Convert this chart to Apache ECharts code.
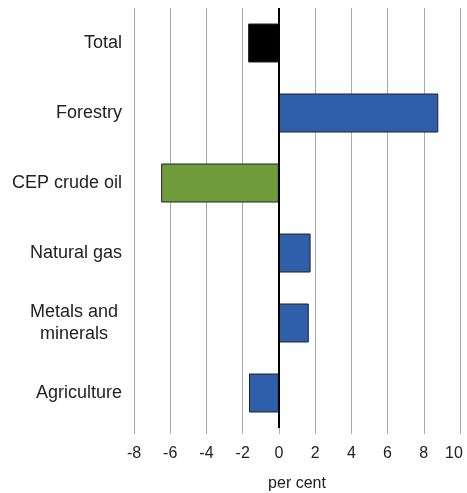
<!DOCTYPE html>
<html><head><meta charset="utf-8">
<script src="https://cdn.jsdelivr.net/npm/echarts@6/dist/echarts.min.js"></script>
<style>html,body{margin:0;padding:0;background:#fff}#c{width:467px;height:493px}</style>
</head><body><div id="c"></div>
<script>
const categories = ["Total", "Forestry", "CEP crude oil", "Natural gas", "Metals and\nminerals", "Agriculture"];
const values = [-1.7, 8.8, -6.5, 1.75, 1.65, -1.65];
const barColors = ["#000000", "#2f5fa8", "#6f9b3a", "#2f5fa8", "#2f5fa8", "#2f5fa8"];
const xTicks = { min: -8, max: 10, interval: 2 };
const xName = "per cent";

const chart = echarts.init(document.getElementById('c'), null, {renderer: 'canvas'});
const font = 'Liberation Sans, Arial, Helvetica, sans-serif';
chart.setOption({
  animation: false,
  grid: { left: 134, right: 7, top: 8, bottom: 65, containLabel: false, outerBoundsMode: 'none' },
  xAxis: {
    type: 'value', min: xTicks.min, max: xTicks.max, interval: xTicks.interval,
    name: xName, nameLocation: 'middle', nameGap: 48,
    nameTextStyle: { fontFamily: font, fontSize: 16, color: '#222' },
    axisLine: { show: true, onZero: false, lineStyle: { color: 'rgba(0,0,0,0)' } },
    axisTick: { show: true, length: 6, lineStyle: { color: '#aaa', width: 1 } },
    axisLabel: {
      fontFamily: font, fontSize: 16, color: '#222', margin: 18,
      formatter: function (v) { return v === xTicks.max ? '{r|' + v + '}' : String(v); },
      rich: { r: { fontFamily: font, fontSize: 16, color: '#222', padding: [0, 12, 0, 0] } }
    },
    splitLine: { show: true, lineStyle: { color: '#aaa', width: 1 } }
  },
  yAxis: {
    type: 'category', data: categories, inverse: true,
    axisLine: { show: false }, axisTick: { show: false },
    axisLabel: {
      fontFamily: font, fontSize: 18, color: '#222', margin: 12, lineHeight: 22,
      formatter: function (v) {
        if (v.indexOf('\n') >= 0) return v.split('\n').map(s => '{m|' + s + '}').join('\n');
        return v;
      },
      rich: { m: { width: 96, align: 'center', fontFamily: font, fontSize: 18, color: '#222', lineHeight: 22 } }
    }
  },
  series: [{
    type: 'bar', barWidth: 39,
    data: values.map((v, i) => ({ value: v, itemStyle: { color: barColors[i] } })),
    itemStyle: { borderColor: '#1b2233', borderWidth: 1 },
    markLine: {
      silent: true, symbol: 'none', label: { show: false },
      lineStyle: { color: '#000', width: 2, type: 'solid' },
      data: [{ xAxis: 0 }]
    }
  }]
});
</script></body></html>
